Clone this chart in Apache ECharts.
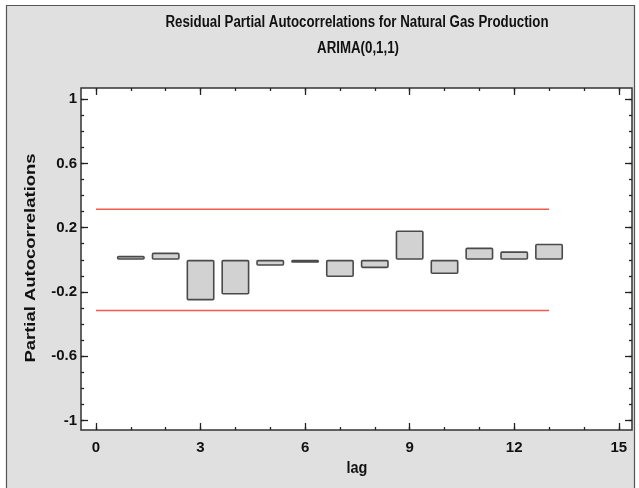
<!DOCTYPE html>
<html><head><meta charset="utf-8">
<script src="https://cdn.jsdelivr.net/npm/echarts@6/dist/echarts.min.js"></script>
<style>html,body{margin:0;padding:0;background:#fff}#c{width:639px;height:488px}</style>
</head><body><div id="c"></div>
<script>
const lags = [1,2,3,4,5,6,7,8,9,10,11,12,13];
const pacf = [0.025,0.045,-0.253,-0.216,-0.037,-0.019,-0.107,-0.052,0.183,-0.089,0.076,0.053,0.10];
const limitUpper = 0.315;
const limitLower = -0.315;
const limitStart = 0, limitEnd = 13;
const xMajor = [0,3,6,9,12,15];
const xMinor = [0,1,2,3,4,5,6,7,8,9,10,11,12,13,14,15];
const yMajor = [-1,-0.6,-0.2,0.2,0.6,1];
const yMinor = [-1,-0.9,-0.8,-0.7,-0.6,-0.5,-0.4,-0.3,-0.2,-0.1,0,0.1,0.2,0.3,0.4,0.5,0.6,0.7,0.8,0.9,1];
const titleText = 'Residual Partial Autocorrelations for Natural Gas Production';
const subText = 'ARIMA(0,1,1)';
const xName = 'lag';
const yName = 'Partial Autocorrelations';

const FN = '"Liberation Sans",Arial,sans-serif';
const X0 = -0.43, X1 = 15.38, Y0 = -1.06, Y1 = 1.07;
const ax = '#222';
function xa(pos, vals, len, labels) {
  return {type:'value', min:X0, max:X1, position:pos,
    axisLine:{show:false, onZero:false}, splitLine:{show:false},
    axisTick:{show:true, inside:true, length:len, customValues:vals, lineStyle:{color:ax,width:1.3}},
    axisLabel:labels ? {show:true, customValues:vals, color:'#111', fontFamily:FN, fontWeight:'bold', fontSize:15, margin:10, formatter:v=>String(v)} : {show:false}};
}
function ya(pos, vals, len, labels) {
  return {type:'value', min:Y0, max:Y1, position:pos,
    axisLine:{show:false, onZero:false}, splitLine:{show:false},
    axisTick:{show:true, inside:true, length:len, customValues:vals, lineStyle:{color:ax,width:1.3}},
    axisLabel:labels ? {show:true, customValues:vals, color:'#111', fontFamily:FN, fontWeight:'bold', fontSize:15, margin:4, formatter:v=>String(Math.round(v*10)/10)} : {show:false}};
}
const chart = echarts.init(document.getElementById('c'), null, {renderer:'canvas'});
chart.setOption({
  backgroundColor:'#fff',
  animation:false,
  graphic:[
    {type:'rect', z:-10, shape:{x:6.5,y:5.5,width:628,height:500}, style:{fill:'#e0e0e0', stroke:'#555', lineWidth:1.2}},
    {type:'text', x:357, y:23, scaleX:0.83, z:5, style:{text:titleText, fill:'#111', font:'bold 16px '+FN, textAlign:'center', textVerticalAlign:'middle'}},
    {type:'text', x:358, y:49, scaleX:0.83, z:5, style:{text:subText, fill:'#111', font:'bold 16px '+FN, textAlign:'center', textVerticalAlign:'middle'}},
    {type:'text', x:357, y:468, scaleX:0.85, z:5, style:{text:xName, fill:'#111', font:'bold 17px '+FN, textAlign:'center', textVerticalAlign:'middle'}},
    {type:'text', x:31, y:258, rotation:Math.PI/2, scaleX:1.23, z:5, style:{text:yName, fill:'#111', font:'bold 15px '+FN, textAlign:'center', textVerticalAlign:'middle'}}
  ],
  grid:{left:81, top:88, right:7, bottom:58, show:true, backgroundColor:'#fff', borderColor:'#333', borderWidth:1.5},
  xAxis:[xa('bottom',xMajor,7,true), xa('bottom',xMinor,3,false), xa('top',xMajor,7,false), xa('top',xMinor,3,false)],
  yAxis:[ya('left',yMajor,7,true), ya('left',yMinor,3,false), ya('right',yMajor,7,false), ya('right',yMinor,3,false)],
  series:[
    {type:'bar', xAxisIndex:0, yAxisIndex:0, barWidth:28,
     data: lags.map((l,i)=>[l,pacf[i]]),
     itemStyle:{color:'#d2d2d2', borderColor:'#4a4a4a', borderWidth:1.6, borderRadius:1}},
    {type:'line', xAxisIndex:0, yAxisIndex:0, symbol:'none', data:[[limitStart,limitUpper],[limitEnd,limitUpper]], lineStyle:{color:'#f05a4a', width:1.5}},
    {type:'line', xAxisIndex:0, yAxisIndex:0, symbol:'none', data:[[limitStart,limitLower],[limitEnd,limitLower]], lineStyle:{color:'#f05a4a', width:1.5}}
  ]
});
</script></body></html>
